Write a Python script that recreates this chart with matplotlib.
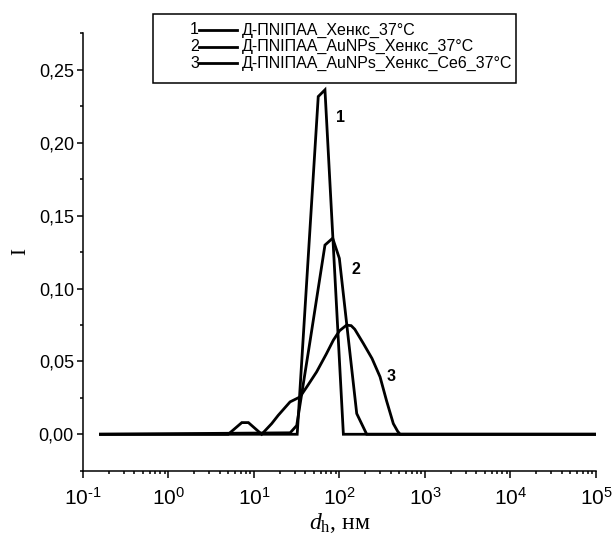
import math
import matplotlib
matplotlib.use("Agg")
import matplotlib.pyplot as plt
from matplotlib.lines import Line2D
from matplotlib.patches import Rectangle
from matplotlib.ticker import FixedLocator, MultipleLocator, FuncFormatter, LogLocator, NullFormatter

plt.rcParams['mathtext.fontset'] = 'custom'
plt.rcParams['mathtext.rm'] = 'Liberation Serif'
plt.rcParams['mathtext.it'] = 'Liberation Serif:italic'
plt.rcParams['mathtext.sf'] = 'Liberation Sans'

# hydrodynamic diameter (nm) and intensity distributions
d1 = [0.16, 32, 56.4, 67.6, 111, 1e5]
i1 = [0.0, 0.0, 0.2317, 0.2363, 0.0, 0.0]

d2 = [0.16, 26.5, 31.6, 45, 67.6, 83.2, 99.6, 159, 208, 1e5]
i2 = [0.0, 0.001, 0.006, 0.063, 0.1298, 0.1345, 0.1207, 0.0142, 0.0, 0.0]

d3 = [0.16, 5.0, 7.2, 8.6, 12.3, 16.1, 19.2, 26.4, 34.5, 42, 54, 70, 84.8, 100,
      121, 137, 151, 190, 240, 298, 355, 426, 479, 511, 1e5]
i3 = [0.0, 0.0, 0.008, 0.008, 0.0, 0.0073, 0.013, 0.0222, 0.0256, 0.033, 0.0428,
      0.055, 0.0646, 0.071, 0.0749, 0.0745, 0.072, 0.0623, 0.052, 0.0394, 0.023,
      0.0073, 0.002, 0.0, 0.0]

labels = ["Д-ПNIПАА_Хенкс_37°C",
          "Д-ПNIПАА_AuNPs_Хенкс_37°C",
          "Д-ПNIПАА_AuNPs_Хенкс_Ce6_37°C"]
curve_tags = ["1", "2", "3"]
tag_pos = [(104, 0.2176), (156, 0.1133), (397, 0.0394)]


def decade_label(v, pos):
    k = round(math.log10(v))
    s = str(abs(k)) if k >= 0 else "\u2010" + str(abs(k))
    return "10$^{\\mathsf{%s}}$" % s


W, H = 615, 535
fig = plt.figure(figsize=(W / 100, H / 100), dpi=100)
ax = fig.add_axes([83 / W, 1 - 470.7 / H, (596 - 83) / W, (470.7 - 32.7) / H])

for d, i in zip([d1, d2, d3], [i1, i2, i3]):
    ax.plot(d, i, color='black', lw=2.0, solid_joinstyle='miter')

for tag, (x, y) in zip(curve_tags, tag_pos):
    ax.text(x, y, tag, fontsize=11.5, fontweight='bold', family='Liberation Sans',
            ha='center', va='center')

ax.set_xscale('log')
ax.set_xlim(1e-1, 1e5)
ax.set_ylim(-0.025, 0.2755)

ax.xaxis.set_major_locator(FixedLocator([10.0 ** k for k in range(-1, 6)]))
ax.xaxis.set_minor_locator(LogLocator(base=10, subs=range(2, 10), numticks=20))
ax.xaxis.set_minor_formatter(NullFormatter())
ax.xaxis.set_major_formatter(FuncFormatter(decade_label))

ax.yaxis.set_major_locator(FixedLocator([0, 0.05, 0.10, 0.15, 0.20, 0.25]))
ax.yaxis.set_minor_locator(MultipleLocator(0.025))
ax.yaxis.set_major_formatter(FuncFormatter(lambda v, p: ("%.2f" % v).replace('.', ',')))

for s in ['top', 'right']:
    ax.spines[s].set_visible(False)
for s in ['left', 'bottom']:
    ax.spines[s].set_linewidth(1.1)

ax.tick_params(axis='x', which='major', direction='out', length=5, width=1.1,
               labelsize=15, pad=7.5)
ax.tick_params(axis='x', which='minor', direction='out', length=2.5, width=1.1)
ax.tick_params(axis='y', which='major', direction='out', length=4.5, width=1.1,
               labelsize=13, pad=2)
ax.tick_params(axis='y', which='minor', direction='out', length=2.5, width=1.1)
for lab in ax.get_xticklabels() + ax.get_yticklabels():
    lab.set_family('Liberation Sans')

ax.set_xlabel(r"$d_{\mathrm{h}}$, нм", family='Liberation Serif', fontsize=17, labelpad=1)
ax.set_ylabel("I", family='Liberation Serif', fontsize=15, labelpad=6)

# legend box drawn in figure pixels
box = Rectangle((153 / W, 1 - 83 / H), (516 - 153) / W, (83 - 14) / H,
                transform=fig.transFigure, fill=False, lw=1.1, ec='black')
fig.add_artist(box)
for k, (tag, lab) in enumerate(zip(curve_tags, labels)):
    yy = 1 - (30 + 16.7 * k) / H
    fig.text(199 / W, yy, tag, ha='right', va='center', fontsize=11.5,
             family='Liberation Sans')
    fig.add_artist(Line2D([199 / W, 236.7 / W], [yy, yy], transform=fig.transFigure,
                          color='black', lw=2.0))
    fig.text(241.7 / W, yy, lab, ha='left', va='center', fontsize=11.5,
             family='Liberation Sans')

fig.savefig("out.png", dpi=100)
